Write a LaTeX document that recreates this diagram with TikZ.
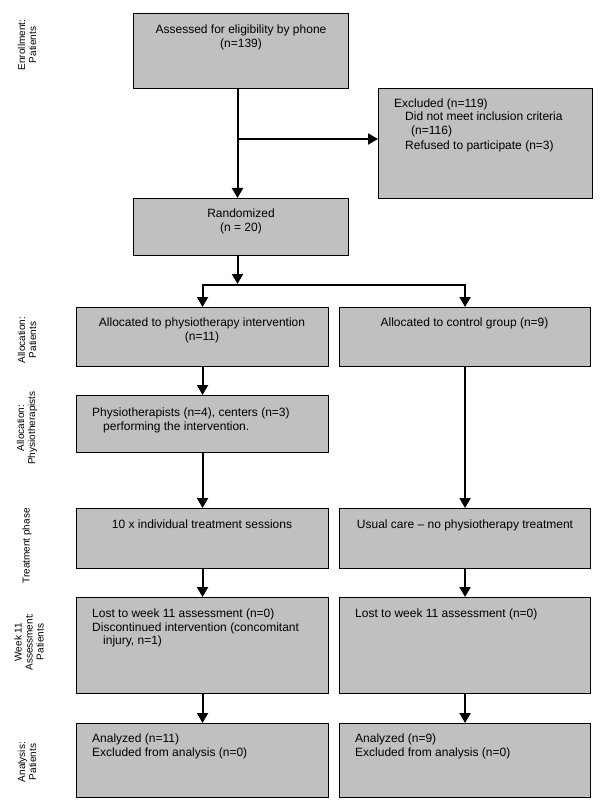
\documentclass[tikz,border=0pt]{standalone}
\usepackage{fontspec}
\setmainfont{Liberation Sans}
\usetikzlibrary{arrows.meta}
\definecolor{boxgray}{RGB}{192,192,192}
\begin{document}
\begin{tikzpicture}[x=1pt,y=-1pt,
  box/.style={draw=black, fill=boxgray, line width=1.1pt, inner sep=0pt, anchor=north west},
  lc/.style={anchor=base, inner sep=0pt, font=\fontsize{12}{14}\selectfont},
  ll/.style={anchor=base west, inner sep=0pt, font=\fontsize{12}{14}\selectfont},
  side/.style={rotate=90, align=center, inner sep=0pt, font=\fontsize{10}{11}\selectfont},
  arr/.style={line width=2pt, -{Triangle[length=10pt,width=11pt]}},
  plain/.style={line width=2pt}]
\useasboundingbox[fill=white] (0,0) rectangle (600,810);

% side labels
\node[side] (s1) at (27,45) {Enrollment:\\Patients};
\node[side] (s2) at (27,340) {Allocation:\\Patients};
\node[side] (s3) at (27,428) {Allocation:\\Physiotherapists};
\node[side] (s4) at (27,546) {Treatment phase};
\node[side] (s5) at (29,642) {Week 11\\Assessment:\\Patients};
\node[side] (s6) at (27,762) {Analysis:\\Patients};

% boxes
\node[box, minimum width=215pt, minimum height=75pt] (assess) at (133,13) {};
\node[box, minimum width=214pt, minimum height=110pt] (excl) at (378,88) {};
\node[box, minimum width=215pt, minimum height=57pt] (rand) at (133,198) {};
\node[box, minimum width=252pt, minimum height=59pt] (allocL) at (76,307) {};
\node[box, minimum width=251pt, minimum height=59pt] (allocR) at (339,307) {};
\node[box, minimum width=252pt, minimum height=57pt] (physio) at (76,395) {};
\node[box, minimum width=252pt, minimum height=60pt] (treatL) at (76,508) {};
\node[box, minimum width=251pt, minimum height=60pt] (treatR) at (339,508) {};
\node[box, minimum width=252pt, minimum height=96pt] (weekL) at (76,597) {};
\node[box, minimum width=251pt, minimum height=96pt] (weekR) at (339,597) {};
\node[box, minimum width=252pt, minimum height=74pt] (anaL) at (76,723) {};
\node[box, minimum width=251pt, minimum height=74pt] (anaR) at (339,723) {};

% texts
\node[lc] (assess1) at (241,34) {Assessed for eligibility by phone};
\node[lc] (assess2) at (241,48) {(n=139)};
\node[ll] (excl1) at (394,108) {Excluded (n=119)};
\node[ll] (excl2) at (405,121) {Did not meet inclusion criteria};
\node[ll] (excl3) at (411,135) {(n=116)};
\node[ll] (excl4) at (405,150) {Refused to participate (n=3)};
\node[lc] (rand1) at (241,218) {Randomized};
\node[lc] (rand2) at (241,232) {(n = 20)};
\node[lc] (allocL1) at (202,326) {Allocated to physiotherapy intervention};
\node[lc] (allocL2) at (202,340) {(n=11)};
\node[lc] (allocR1) at (464.5,326) {Allocated to control group (n=9)};
\node[ll] (physio1) at (92,416) {Physiotherapists (n=4), centers (n=3)};
\node[ll] (physio2) at (103,430) {performing the intervention.};
\node[lc] (treatL1) at (202,528) {10 x individual treatment sessions};
\node[lc] (treatR1) at (465,528) {Usual care – no physiotherapy treatment};
\node[ll] (weekL1) at (92,617) {Lost to week 11 assessment (n=0)};
\node[ll] (weekL2) at (92,631) {Discontinued intervention (concomitant};
\node[ll] (weekL3) at (103,644) {injury, n=1)};
\node[ll] (weekR1) at (355,617) {Lost to week 11 assessment (n=0)};
\node[ll] (anaL1) at (92,742) {Analyzed (n=11)};
\node[ll] (anaL2) at (92,756) {Excluded from analysis (n=0)};
\node[ll] (anaR1) at (355,742) {Analyzed (n=9)};
\node[ll] (anaR2) at (355,756) {Excluded from analysis (n=0)};

% connectors
\coordinate (sp) at (237.5,0);
\coordinate (br) at (237.5,139);
\coordinate (split) at (237.5,285);
\draw[arr] (assess.south -| sp) -- (rand.north -| sp);
\draw[arr] (br) -- (br -| excl.west);
\draw[arr, shorten >=1pt] (rand.south -| sp) -- (split);
\draw[plain] ([xshift=-1pt]split -| allocL.north) -- ([xshift=1pt]split -| allocR.north);
\draw[arr] (split -| allocL.north) -- (allocL.north);
\draw[arr] (split -| allocR.north) -- (allocR.north);
\draw[arr] (allocL.south) -- (physio.north);
\draw[arr] (physio.south) -- (treatL.north);
\draw[arr] (allocR.south) -- (treatR.north);
\draw[arr] (treatL.south) -- (weekL.north);
\draw[arr] (treatR.south) -- (weekR.north);
\draw[arr] (weekL.south) -- (anaL.north);
\draw[arr] (weekR.south) -- (anaR.north);
\end{tikzpicture}
\end{document}
